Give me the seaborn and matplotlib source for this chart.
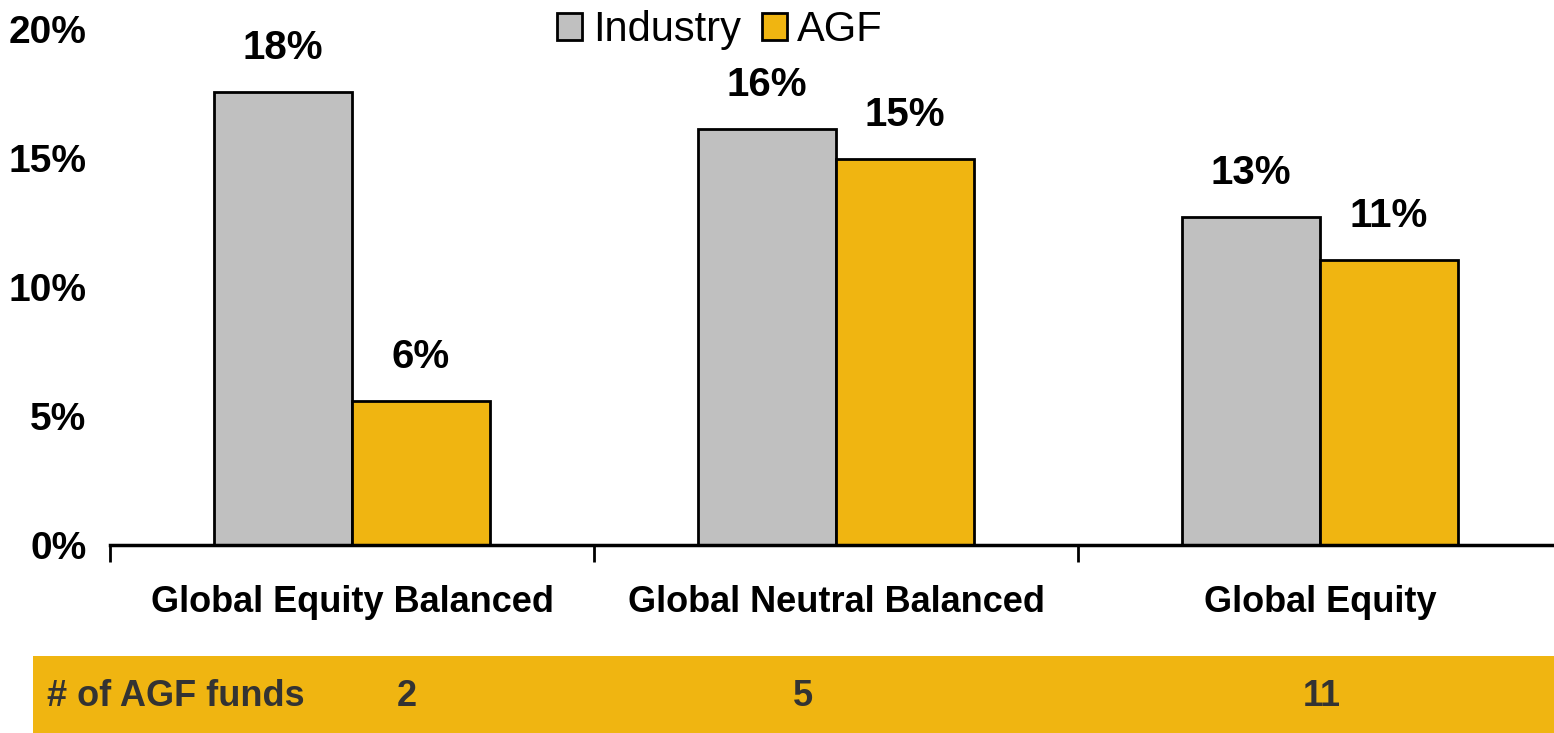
import pandas as pd
import matplotlib.pyplot as plt
import seaborn as sns
from matplotlib.patches import Rectangle

# Data
categories = ["Global Equity Balanced", "Global Neutral Balanced", "Global Equity"]
industry = [17.56, 16.12, 12.71]
agf = [5.58, 14.96, 11.05]
series_names = ["Industry", "AGF"]
fund_counts = [2, 5, 11]
y_ticks = [0, 5, 10, 15, 20]

GREY = "#C0C0C0"
GOLD = "#F0B511"

df = pd.DataFrame({
    "category": categories * 2,
    "value": industry + agf,
    "series": [series_names[0]] * 3 + [series_names[1]] * 3,
})

sns.set_theme(style="white")
plt.rcParams["font.family"] = ["Liberation Sans", "DejaVu Sans"]
plt.rcParams.update({"text.color": "black", "xtick.color": "black",
                     "ytick.color": "black", "axes.labelcolor": "black"})

fig = plt.figure(figsize=(15.54, 7.33), dpi=100)
ax = fig.add_axes([110 / 1554, 1 - 545 / 733, 1452 / 1554, (545 - 29) / 733])

sns.barplot(data=df, x="category", y="value", hue="series", order=categories,
            hue_order=series_names, palette=[GREY, GOLD], width=0.57, gap=0,
            edgecolor="black", linewidth=2, saturation=1, legend=True, ax=ax)

for cont in ax.containers:
    ax.bar_label(cont, fmt="{:.0f}%", padding=18, fontsize=29, fontweight="bold",
                 color="black")

ax.set_ylim(0, 20)
ax.set_xlim(-0.5, 2.5)
ax.set_yticks(y_ticks)
ax.set_yticklabels([f"{t}%" for t in y_ticks], fontsize=28, fontweight="bold")
ax.tick_params(axis="y", length=0, pad=17)
ax.set_xticks(range(len(categories)))
ax.set_xticklabels(categories, fontsize=26, fontweight="bold")
ax.tick_params(axis="x", which="major", length=0, pad=29)
ax.set_xticks([-0.5, 0.5, 1.5, 2.5], minor=True)
ax.tick_params(axis="x", which="minor", bottom=True, length=12, width=2,
               color="black", direction="out")
ax.set_xlabel("")
ax.set_ylabel("")
for s in ["top", "right", "left"]:
    ax.spines[s].set_visible(False)
ax.spines["bottom"].set_linewidth(2.5)
ax.spines["bottom"].set_color("black")
ax.grid(False)

handles, labels = ax.get_legend_handles_labels()
ax.legend_.remove()
fig.legend(handles, labels, loc="center", bbox_to_anchor=(720 / 1554, 1 - 30 / 733),
           ncol=2, frameon=False, fontsize=30, handlelength=0.6, handleheight=0.6,
           handletextpad=0.25, columnspacing=0.5, borderaxespad=0)

# bottom band with fund counts
fig.patches.append(Rectangle((33 / 1554, 0), 1 - 33 / 1554, (733 - 656) / 733,
                             transform=fig.transFigure, facecolor=GOLD,
                             edgecolor="none", zorder=0))
band_y = 1 - 697 / 733
fig.text(47 / 1554, band_y, "# of AGF funds", fontsize=26, fontweight="bold",
         color="#333333", ha="left", va="center")
for xp, n in zip([407, 803, 1322], fund_counts):
    fig.text(xp / 1554, band_y, str(n), fontsize=26, fontweight="bold",
             color="#333333", ha="center", va="center")

fig.savefig("out.png", dpi=100)
